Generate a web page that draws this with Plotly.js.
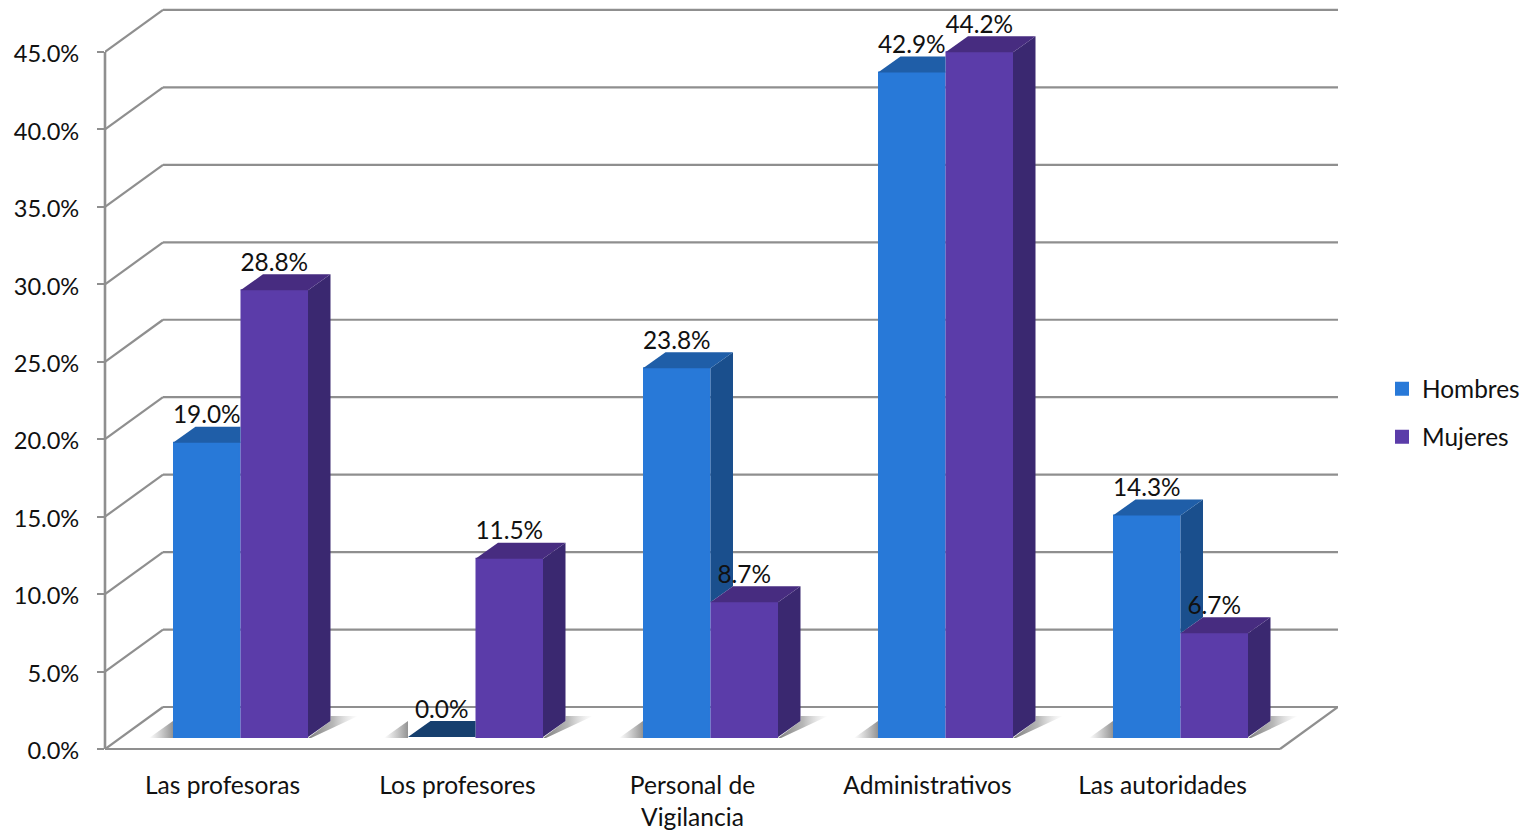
<!DOCTYPE html>
<html><head><meta charset="utf-8">
<script src="https://cdn.plot.ly/plotly-3.0.1.min.js"></script>
<style>html,body{margin:0;padding:0;background:#fff}#c{width:1527px;height:830px}</style>
</head><body><div id="c"></div>
<script>
const categories = ["Las profesoras","Los profesores","Personal de<br>Vigilancia","Administrativos","Las autoridades"];
const hombres = [19.0, 0.0, 23.8, 42.9, 14.3];
const mujeres = [28.84, 11.5, 8.7, 44.2, 6.7];
const yTicks = [0,5,10,15,20,25,30,35,40,45];
const colors = {hF:"#2879d8",hT:"#1f5ea8",hS:"#1a4f8d",hZ:"#163f6e",mF:"#5b3ca9",mT:"#472c80",mS:"#3a2870"};
const FONT = "Lato, Carlito, sans-serif", FS_CAT = 24.6, FS_TICK = 23.6, FS_LAB = 24.4, FS_LEG = 24.4, TXT = "#111111", GRID = "#8f8f8f";

// scale factors of the pseudo-3D frame (pixels per data unit)
const PX = 235, PY = 15.49;
const L = 105, R = 1338, T = 10, B = 749, W = 1527, H = 830;
const wallX = 58/PX, wallY = 42/PY, dX = 22.5/PX, dY = 16/PY, base = 12/PY;
const xFront = -0.5, xEnd = 4.5, xBack = xFront + wallX;
const barW = 67.5/PX, off0 = -49.5/PX, off1 = off0 + barW, edge = 1/PX;
const idx = categories.map((_, i) => i);

const shapes = [];
const line = (x0,y0,x1,y1,w) => shapes.push({type:"line",layer:"below",xref:"x",yref:"y",x0,y0,x1,y1,line:{color:GRID,width:w||2.2}});
yTicks.forEach(t => {
  line(xFront,t,xBack,t+wallY);
  line(xBack,t+wallY,xEnd+wallX,t+wallY);
});
line(xFront,0,xEnd,0);
line(xEnd,0,xEnd+wallX,wallY);
shapes.push({type:"line",layer:"below",xref:"paper",yref:"y",x0:0,x1:0,y0:0,y1:45,line:{color:GRID,width:2.6}});

const traces = [];
const poly = (xs,ys,color) => traces.push({type:"scatter",mode:"lines",x:xs.concat(xs[0]),y:ys.concat(ys[0]),fill:"toself",fillcolor:color,line:{width:0},hoverinfo:"skip",showlegend:false});
const shadow = (xs,ys,scale) => traces.push({type:"scatter",mode:"lines",x:xs.concat(xs[0]),y:ys.concat(ys[0]),fill:"toself",fillgradient:{type:"horizontal",colorscale:scale},line:{width:0},hoverinfo:"skip",showlegend:false});

const lw = vals => vals.map(v => v === 0 ? 0 : 2);
traces.push({type:"bar",name:"Hombres",x:idx,y:hombres,base:idx.map(()=>base),offset:off0+edge,width:barW-2*edge,marker:{color:colors.hF,line:{width:lw(hombres),color:colors.hF}},hoverinfo:"skip",legend:"legend"});
traces.push({type:"bar",name:"Mujeres",x:idx,y:mujeres,base:idx.map(()=>base),offset:off1+edge,width:barW-2*edge,marker:{color:colors.mF,line:{width:lw(mujeres),color:colors.mF}},hoverinfo:"skip",legend:"legend2"});

idx.forEach(i => {
  const x0 = i+off0, x2 = i+off1+barW;
  // floor shadows
  shadow([x0-24/PX,x0,x0],[base-1/PY,base-1/PY,base+dY],[[0,"rgba(140,140,140,0)"],[1,"rgba(120,120,120,0.8)"]]);
  shadow([x2,x2+dX,x2+dX,x2+50/PX,x2+3/PX],[base-1/PY,base+dY,base+21/PY,base+21/PY,base-1/PY],[[0,"rgba(110,110,110,0.9)"],[0.5,"rgba(135,135,135,0.6)"],[1,"rgba(190,190,190,0)"]]);
});
idx.forEach(i => {
  const x0 = i+off0, x1 = i+off1, x2 = i+off1+barW;
  const h = base+hombres[i], m = base+mujeres[i];
  // Hombres side, only the part not hidden by the Mujeres bar
  if (h > m) poly([x1,x1+dX,x1+dX,x1],[h,h+dY,m+dY,m],colors.hS);
  // Hombres top, clipped by the Mujeres bar when it is taller
  const topColor = hombres[i] === 0 ? colors.hZ : colors.hT;
  if (m > h) poly([x0,x1,x1,x0+dX],[h,h,h+dY,h+dY],topColor);
  else poly([x0,x1,x1+dX,x0+dX],[h,h,h+dY,h+dY],topColor);
  // Mujeres side and top
  poly([x2,x2+dX,x2+dX,x2],[m,m+dY,base+dY,base],colors.mS);
  poly([x1,x2,x2+dX,x1+dX],[m,m,m+dY,m+dY],colors.mT);
});
const lab = v => v.toFixed(1)+"%";
[[hombres,off0],[mujeres,off1]].forEach(([vals,off]) => {
  traces.push({type:"scatter",mode:"text",x:idx.map(i=>i+off+barW/2),y:vals.map(v=>v+base+25.5/PY),text:vals.map(lab),textposition:"middle center",textfont:{family:FONT,size:FS_LAB,color:TXT},hoverinfo:"skip",showlegend:false,cliponaxis:false});
});

const legFont = {family:FONT,size:FS_LEG,color:TXT};
const plotH = B+6-(T-4);
const layout = {
  width:W,height:H,paper_bgcolor:"#fff",plot_bgcolor:"rgba(0,0,0,0)",
  margin:{l:L,r:W-R,t:T-4,b:H-B-6,pad:0,autoexpand:false},
  barmode:"overlay",shapes,
  xaxis:{range:[xFront,xEnd+wallX],tickmode:"array",tickvals:idx,ticktext:categories,ticks:"",showgrid:false,zeroline:false,showline:false,tickfont:{family:FONT,size:FS_CAT,color:TXT},ticklabelstandoff:13,fixedrange:true},
  yaxis:{range:[-6/PY,(B-T+4)/PY],tickmode:"array",tickvals:yTicks,ticktext:yTicks.map(t=>t.toFixed(1)+"%"),ticks:"outside",ticklen:7,tickwidth:2,tickcolor:GRID,showgrid:false,zeroline:false,showline:false,tickfont:{family:FONT,size:FS_TICK,color:TXT},ticklabelstandoff:13,ticklabelshift:2,fixedrange:true},
  legend:{x:(1389-L)/(R-L),y:(B+6-389)/plotH,xanchor:"left",yanchor:"middle",bgcolor:"rgba(0,0,0,0)",font:legFont,indentation:-7},
  legend2:{x:(1389-L)/(R-L),y:(B+6-437)/plotH,xanchor:"left",yanchor:"middle",bgcolor:"rgba(0,0,0,0)",font:legFont,indentation:-7},
  showlegend:true
};
Plotly.newPlot("c",traces,layout,{displayModeBar:false,responsive:false});
</script></body></html>
